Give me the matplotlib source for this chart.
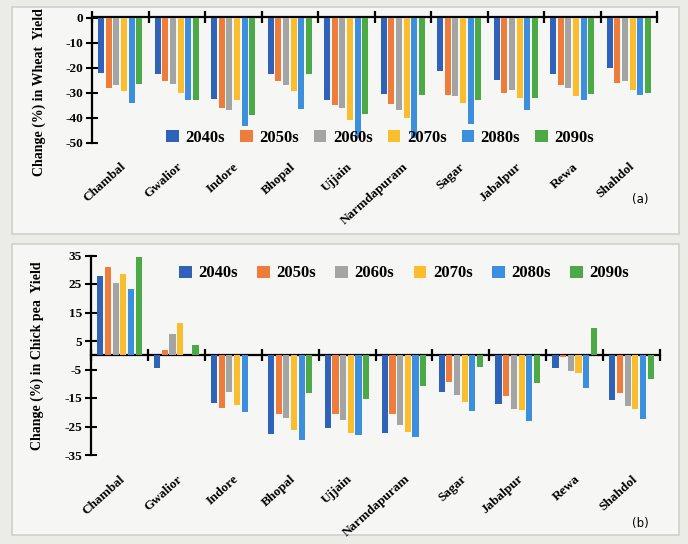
import numpy as np
import matplotlib
matplotlib.use("Agg")
import matplotlib.pyplot as plt
from matplotlib.patches import Rectangle

plt.rcParams["font.family"] = ["Liberation Serif", "DejaVu Serif"]

districts = ["Chambal", "Gwalior", "Indore", "Bhopal", "Ujjain",
             "Narmdapuram", "Sagar", "Jabalpur", "Rewa", "Shahdol"]
periods = ["2040s", "2050s", "2060s", "2070s", "2080s", "2090s"]
colors = ["#2F63B9", "#EE7C3A", "#A3A5A4", "#F9BD2E", "#3C8FDD", "#4BAA45"]

# Change (%) in wheat yield, one list per period, districts in order
wheat_2040s = [-22, -22.5, -32.5, -22.5, -33, -30.5, -21.5, -25, -22.5, -20]
wheat_2050s = [-28, -25.5, -36, -25.5, -35, -34.5, -31, -30, -27, -26]
wheat_2060s = [-27, -26.5, -37, -27, -36, -37, -31.5, -29, -28, -25.5]
wheat_2070s = [-29.5, -30, -33, -29.5, -41, -40, -34, -32, -31.5, -29]
wheat_2080s = [-34, -33, -43.5, -36.5, -48, -48, -42.5, -37, -33, -31]
wheat_2090s = [-26.5, -33, -39, -22.5, -38.5, -31, -33, -32, -30.5, -30]

# Change (%) in chick pea yield
chick_2040s = [27.8, -4.3, -16.7, -27.5, -25.7, -27.3, -12.9, -17, -4.3, -15.6]
chick_2050s = [31, 2, -18.5, -20.5, -20.7, -20.7, -9.4, -14.4, -0.5, -13.4]
chick_2060s = [25.5, 7.4, -13, -22, -22.8, -24.3, -14, -18.7, -5.5, -17.8]
chick_2070s = [28.4, 11.3, -17.3, -26.2, -27.3, -26.9, -16.4, -19.3, -6.2, -19]
chick_2080s = [23.2, 0, -19.9, -29.8, -28, -28.7, -19.6, -23, -11.5, -22.5]
chick_2090s = [34.3, 3.5, 0, -13.3, -15.2, -10.9, -4.1, -9.9, 9.6, -8.4]

wheat_ticks = [0, -10, -20, -30, -40, -50]
chick_ticks = [35, 25, 15, 5, -5, -15, -25, -35]

wheat = [wheat_2040s, wheat_2050s, wheat_2060s, wheat_2070s, wheat_2080s, wheat_2090s]
chick = [chick_2040s, chick_2050s, chick_2060s, chick_2070s, chick_2080s, chick_2090s]

W, H = 688, 544
fig = plt.figure(figsize=(W / 100, H / 100), dpi=100)
fig.patch.set_facecolor("#ebebe8")


def fbox(x0, y0, x1, y1):
    """Pixel box (top-left origin) -> figure fraction [l, b, w, h]."""
    return [x0 / W, 1 - y1 / H, (x1 - x0) / W, (y1 - y0) / H]


# panel frames
for (x0, y0, x1, y1) in [(12, 7, 679, 234), (12, 244, 679, 535)]:
    l, b, w, h = fbox(x0, y0, x1, y1)
    fig.patches.append(Rectangle((l, b), w, h, transform=fig.transFigure,
                                 facecolor="#f6f6f4", edgecolor="#d0d0cc",
                                 lw=1.2, zorder=-10))

bold = dict(fontweight="bold")
n = len(periods)
step = 0.135
width = 0.108
xpos = np.arange(len(districts))
bounds = np.arange(len(districts) + 1) - 0.5


def panel(rect, data, ylim, yticks, ylabel, label_y, legend_x, legend_y,
          colspace):
    ax = fig.add_axes(rect)
    ax.set_zorder(2)
    ax.set_facecolor("none")
    for i, (vals, c) in enumerate(zip(data, colors)):
        ax.bar(xpos + (i - (n - 1) / 2) * step, vals, width=width,
               color=c, label=periods[i], zorder=2)
    ax.set_xlim(-0.5, len(districts) - 0.5)
    ax.set_ylim(*ylim)
    ax.set_yticks(yticks)
    ax.set_yticklabels([str(t) for t in yticks], fontsize=9.5, **bold)
    ax.tick_params(axis="y", direction="inout", length=9, width=1.5, pad=2)
    for s in ["top", "right", "bottom"]:
        ax.spines[s].set_visible(False)
    ax.spines["left"].set_linewidth(1.6)
    ax.set_xticks(xpos)
    ax.set_xticklabels(districts, rotation=42, ha="right",
                       rotation_mode="anchor", fontsize=9.5, **bold)
    ax.tick_params(axis="x", length=0, pad=13)
    ax.set_ylabel(ylabel, fontsize=10, **bold)
    ax.yaxis.set_label_coords(-0.082, label_y)
    # zero line with group separators
    frac = (0 - ylim[0]) / (ylim[1] - ylim[0])
    sec = ax.secondary_xaxis(frac)
    sec.set_xticks(bounds)
    sec.set_xticklabels([])
    sec.tick_params(direction="inout", length=9, width=1.6)
    for s in sec.spines.values():
        s.set_linewidth(1.6)
    ax.legend(loc="center left", bbox_to_anchor=(legend_x, legend_y),
              ncol=6, frameon=False, prop=dict(size=12, weight="bold"),
              handlelength=0.75, handleheight=0.75, handletextpad=0.4,
              columnspacing=colspace, borderaxespad=0)
    return ax


panel(fbox(92, 17.5, 657, 142.5), wheat, (-50, 0), wheat_ticks,
      "Change (%) in Wheat  Yield", 0.4, 0.12, 0.04, 0.9)
panel(fbox(91, 255.5, 660, 455), chick, (-35, 35), chick_ticks,
      "Change (%) in Chick pea  Yield", 0.5, 0.143, 0.91, 1.17)

fig.text(640 / W, 1 - 200 / H, "(a)", family="DejaVu Sans", fontsize=8.5,
         ha="center", va="center")
fig.text(640 / W, 1 - 524 / H, "(b)", family="DejaVu Sans", fontsize=8.5,
         ha="center", va="center")

fig.savefig("out.png", dpi=100, facecolor=fig.get_facecolor())
